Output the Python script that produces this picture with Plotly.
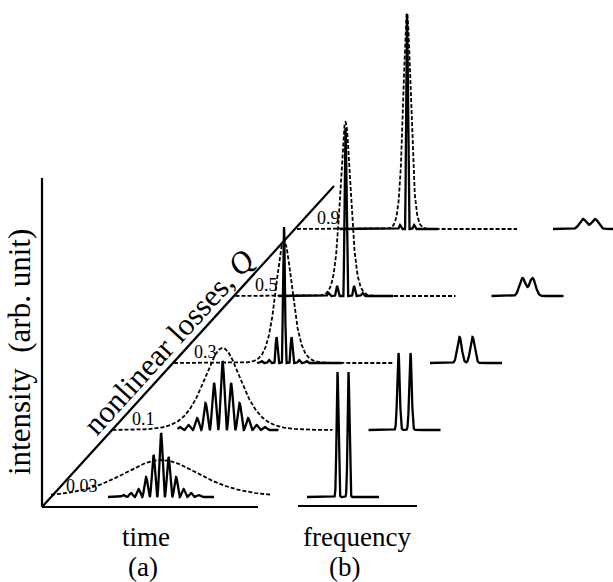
import numpy as np
import plotly.graph_objects as go

# ---- data -------------------------------------------------------------
q_labels = ["0.03", "0.1", "0.3", "0.5", "0.9"]

# input pulse (dashed): peak intensity (arb.) and sech^2 width (time units)
env_peak = [0.37, 0.82, 1.22, 1.74, 2.16]
env_width = [53.0, 25.0, 11.0, 7.0, 5.0]

# output pulse (solid): heights of the individual fringes (arb.)
fringe_peaks = [
    [0.02, 0.04, 0.08, 0.20, 0.42, 0.64, 0.40, 0.20, 0.08, 0.04, 0.02],
    [0.03, 0.05, 0.12, 0.27, 0.47, 0.69, 0.47, 0.27, 0.12, 0.05, 0.03],
    [0.02, 0.03, 0.26, 1.36, 0.26, 0.03, 0.02],
    [0.03, 0.10, 1.68, 0.10, 0.03],
    [0.04, 2.12, 0.04],
]
fringe_spacing = [7.5, 8.5, 7.5, 8.5, 7.0]
lobe_halfwidth = [3.75, 4.25, 2.2, 2.2, 2.0]
solid_window = [(-53, 53), (-45, 56), (-27, 58), (-67, 48), (-67, 31)]

# output spectrum: two lines, separation, height (arb.), rms width
line_sep = [11.0, 12.0, 13.0, 10.0, 12.0]
line_peak = [1.25, 0.77, 0.26, 0.18, 0.10]
line_sigma = [0.9, 1.2, 2.2, 3.0, 3.4]

# ---- layout of the waterfall ------------------------------------------
W, H = 613, 582
PX = 100.0                 # pixels per intensity unit
ORIGIN = (42, 507)         # corner of panel (a)
ROW_X0, ROW_Y0 = 51.0, 497.0
ROW_DX, ROW_DY = 61.5, 67.0
PULSE_OFFSET = 110.0       # pulse centre measured from the Q axis
ENV_HALF = 110.0
SPEC_OFFSET = 292.0
SPEC_HALF = 36.0

SOLID = dict(color="black", width=2.3)
DASHED = dict(color="black", width=1.8, dash="4px,2px")

fig = go.Figure()


def line(xs, ys, style):
    fig.add_trace(go.Scatter(x=xs, y=ys, mode="lines", line=style,
                             hoverinfo="skip", showlegend=False))


# axes frame of panel (a), Q axis, frequency axis of panel (b)
AXIS = dict(color="black", width=2.2)
line([ORIGIN[0], ORIGIN[0]], [178, ORIGIN[1]], AXIS)
line([ORIGIN[0], 258], [ORIGIN[1], ORIGIN[1]], AXIS)
line([ORIGIN[0], 334], [ORIGIN[1], 186], AXIS)
line([298, 417], [506, 506], AXIS)

annotations = []
for i, q in enumerate(q_labels):
    ox = ROW_X0 + ROW_DX * i
    oy = ROW_Y0 - ROW_DY * i
    tc = ox + PULSE_OFFSET

    # input pulse envelope
    t = np.arange(-ENV_HALF, ENV_HALF + 0.01, 0.25)
    env = env_peak[i] / np.cosh(t / env_width[i]) ** 2
    line(tc + t, oy - env * PX, DASHED)

    # output pulse with its fringes
    a, b = solid_window[i]
    t = np.arange(a, b + 0.01, 0.1)
    peaks = fringe_peaks[i]
    n = len(peaks) // 2
    w = lobe_halfwidth[i]
    inten = np.zeros_like(t)
    for k, h in enumerate(peaks):
        d = t - (k - n) * fringe_spacing[i]
        m = np.abs(d) < w
        inten[m] += h * np.cos(np.pi * d[m] / (2 * w)) ** 2
    line(tc + t, oy - inten * PX, SOLID)

    # spectrum
    fc = ox + SPEC_OFFSET
    f = np.arange(-SPEC_HALF, SPEC_HALF + 0.01, 0.1)
    s = line_sigma[i]
    spec = line_peak[i] * (np.exp(-(f - line_sep[i] / 2) ** 2 / (2 * s * s))
                           + np.exp(-(f + line_sep[i] / 2) ** 2 / (2 * s * s)))
    line(fc + f, oy - spec * PX, SOLID)

    annotations.append(dict(x=ox + 31, y=oy - 11, text=q, showarrow=False,
                            font=dict(family="Liberation Serif", size=18, color="black"),
                            xanchor="center", yanchor="middle"))

big = dict(family="Liberation Serif", size=27, color="black")
tall = dict(family="Liberation Serif", size=31, color="black")
annotations += [
    dict(x=19, y=352, text="intensity  (arb. unit)", textangle=-90, font=tall,
         showarrow=False, xanchor="center", yanchor="middle"),
    dict(x=168, y=342, text="nonlinear losses, <i>Q</i>", textangle=-47.7, font=tall,
         showarrow=False, xanchor="center", yanchor="middle"),
    dict(x=146, y=537, text="time", font=big, showarrow=False,
         xanchor="center", yanchor="middle"),
    dict(x=143, y=567, text="(a)", font=big, showarrow=False,
         xanchor="center", yanchor="middle"),
    dict(x=357, y=537, text="frequency", font=big, showarrow=False,
         xanchor="center", yanchor="middle"),
    dict(x=344, y=567, text="(b)", font=big, showarrow=False,
         xanchor="center", yanchor="middle"),
]

fig.update_layout(
    width=W, height=H, margin=dict(l=0, r=0, t=0, b=0),
    paper_bgcolor="white", plot_bgcolor="white",
    xaxis=dict(range=[0, W], visible=False, fixedrange=True),
    yaxis=dict(range=[H, 0], visible=False, fixedrange=True),
    annotations=annotations, showlegend=False,
)

fig.write_html("out.html")
